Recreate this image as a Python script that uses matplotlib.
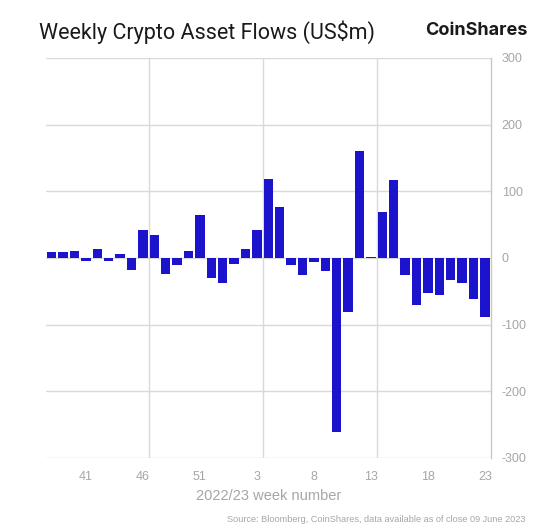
import matplotlib
matplotlib.use("Agg")
import matplotlib.pyplot as plt

plt.rcParams['axes.unicode_minus'] = False

weeks = ['38', '39', '40', '41', '42', '43', '44', '45', '46', '47', '48', '49', '50',
         '51', '52', '53', '1', '2', '3', '4', '5', '6', '7', '8', '9', '10', '11',
         '12', '13', '14', '15', '16', '17', '18', '19', '20', '21', '22', '23']
flows = [9, 9, 10, -5, 13, -4, 6, -18, 42, 34, -24, -11, 10,
         64, -30, -37, -9, 14, 42, 119, 76, -10, -26, -6, -19, -261, -81,
         161, 1.5, 69, 117, -25, -71, -52, -55, -33, -37, -62, -88]
shown_weeks = ['41', '46', '51', '3', '8', '13', '18', '23']
y_ticks = [-300, -200, -100, 0, 100, 200, 300]

grid_c = '#d9d9d9'
text_c = '#a6a6a6'

fig = plt.figure(figsize=(5.6, 5.31), dpi=100)
ax = fig.add_axes([46 / 560, 1 - 458 / 531, (490.6 - 46) / 560, (458 - 58) / 531])

x = list(range(len(weeks)))
ax.bar(x, flows, width=0.84, color='#1b14cc', zorder=3)

ax.set_xlim(-0.5, len(weeks) - 0.5)
ax.set_ylim(-300, 300)

ax.set_yticks(y_ticks)
ax.yaxis.tick_right()
ax.grid(axis='y', color=grid_c, linewidth=1.0, zorder=0)
for b in range(9, len(weeks), 10):
    ax.axvline(b - 0.5, color=grid_c, linewidth=1.0, zorder=0)

tick_pos = [weeks.index(w) for w in shown_weeks]
ax.set_xticks(tick_pos)
ax.set_xticklabels(shown_weeks)

for s in ['top', 'bottom', 'left']:
    ax.spines[s].set_visible(False)
ax.spines['right'].set_color('#c8c8c8')
ax.spines['right'].set_linewidth(1.0)

ax.tick_params(axis='both', length=0, labelsize=9, labelcolor=text_c)
ax.tick_params(axis='y', pad=8)
ax.tick_params(axis='x', pad=9)
for lab in ax.get_xticklabels() + ax.get_yticklabels():
    lab.set_family('Liberation Sans')

ax.set_xlabel('2022/23 week number', fontsize=10.5, color=text_c,
              family='Liberation Sans', labelpad=5)

fig.text(39 / 560, 1 - 32 / 531, 'Weekly Crypto Asset Flows (US$m)', fontsize=15.5,
         family='Roboto', color='#1a1a1a', va='center', ha='left')
fig.text(528 / 560, 1 - 31 / 531, 'CoinShares', fontsize=13, fontweight='bold',
         family='Inter', color='#1a1a1a', va='center', ha='right')
fig.text(525 / 560, 1 - 519 / 531,
         'Source: Bloomberg, CoinShares, data available as of close 09 June 2023',
         fontsize=6.6, family='Liberation Sans', color=text_c, va='center', ha='right')

fig.savefig('out.png', dpi=100, facecolor='white')
